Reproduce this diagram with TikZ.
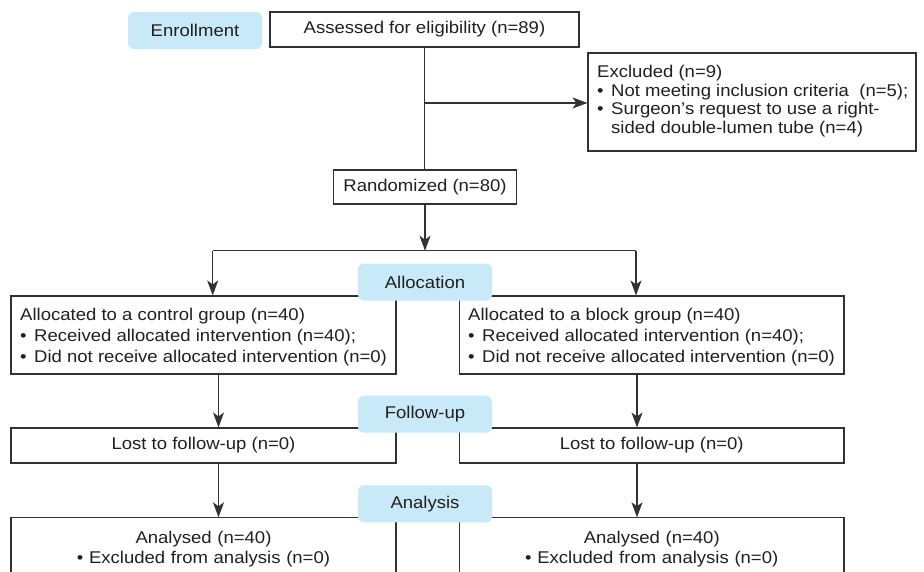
\documentclass[tikz,border=0pt]{standalone}
\usepackage{fontspec}
\setmainfont[FakeStretch=1.09]{Liberation Sans}
\usetikzlibrary{arrows.meta}
\definecolor{badgefill}{RGB}{199,233,248}
\definecolor{linec}{RGB}{50,50,50}
\definecolor{txt}{RGB}{35,31,32}
\newcommand{\bul}{\makebox[14pt][l]{•}}
\begin{document}
\begin{tikzpicture}[x=1pt,y=-1pt,
  box/.style={draw=linec, line width=1.1pt, inner sep=0pt, text=txt, font=\fontsize{17}{20.5}\selectfont},
  label/.style={text=txt, inner sep=0pt, align=left, anchor=base west},
  badge/.style={fill=badgefill, rounded corners=6pt, inner sep=0pt, text=txt, font=\fontsize{17}{20}\selectfont, minimum width=134pt, minimum height=37pt},
  conn/.style={draw=linec, line width=1.1pt},
  arr/.style={conn, -{Stealth[length=15pt,width=11pt,inset=4pt]}}]
\useasboundingbox (0,0) rectangle (924,571);
\clip (0,0) rectangle (924,571);
\fill[white] (0,0) rectangle (924,571);

\node[box, minimum width=309pt, minimum height=35pt] (assess) at (424.5,29.5) {Assessed for eligibility (n=89)};
\node[box, minimum width=328pt, minimum height=98pt] (excl) at (752,102) {};
% anchor base = baseline of the last line
\node[label, font=\fontsize{17}{18.35}\selectfont] (exclt) at (597,133)
  {Excluded (n=9)\\ \bul Not meeting inclusion criteria\ \ (n=5);\\ \bul Surgeon’s request to use a right-\\ \hspace*{14pt}sided double-lumen tube (n=4)};
\node[box, minimum width=183pt, minimum height=34pt] (rand) at (425,187) {Randomized (n=80)};

\node[box, minimum width=385pt, minimum height=78pt] (allocL) at (203.5,335) {};
\node[label, font=\fontsize{17}{20.8}\selectfont] (allocLt) at (20,362.3)
  {Allocated to a control group (n=40)\\ \bul Received allocated intervention (n=40);\\ \bul Did not receive allocated intervention (n=0)};
\node[box, minimum width=384.5pt, minimum height=78pt] (allocR) at (651.75,335) {};
\node[label, font=\fontsize{17}{20.8}\selectfont] (allocRt) at (468,362.3)
  {Allocated to a block group (n=40)\\ \bul Received allocated intervention (n=40);\\ \bul Did not receive allocated intervention (n=0)};

\node[box, minimum width=385pt, minimum height=35pt] (lostL) at (203.5,445.5) {Lost to follow-up (n=0)};
\node[box, minimum width=384.5pt, minimum height=35pt] (lostR) at (651.75,445.5) {Lost to follow-up (n=0)};

\node[box, minimum width=385pt, minimum height=100pt, anchor=north] (analL) at (203.5,517.3) {};
\node[box, minimum width=384.5pt, minimum height=100pt, anchor=north] (analR) at (651.75,517.3) {};
\node[text=txt, inner sep=0pt, text width=385pt, align=center, anchor=base, font=\fontsize{17}{20}\selectfont] (analLt) at (203.5,543.5)
  {Analysed (n=40)\\ • Excluded from analysis (n=0)};
\node[text=txt, inner sep=0pt, text width=384pt, align=center, anchor=base, font=\fontsize{17}{20}\selectfont] (analRt) at (651.75,543.5)
  {Analysed (n=40)\\ • Excluded from analysis (n=0)};

% connectors
\draw[conn] (assess.south) -- (assess.south |- rand.north);
\coordinate (exj) at (425,103);
\draw[arr] (exj) -- (exj -| excl.west);
\coordinate (brC) at (425,250.7);
\coordinate (brL) at (212.7,250.7);
\coordinate (brR) at (636,250.7);
\draw[arr] (rand.south) -- (rand.south |- brC);
\draw[conn] (brL) -- (brR);
\draw[arr] (brL) -- (brL |- allocL.north);
\draw[arr] (brR) -- (brR |- allocR.north);
\draw[arr] ([xshift=15pt]allocL.south) -- ([xshift=15pt]lostL.north);
\draw[arr] ([xshift=-14.75pt]allocR.south) -- ([xshift=-14.75pt]lostR.north);
\draw[arr] ([xshift=15pt]lostL.south) -- ([xshift=15pt]analL.north);
\draw[arr] ([xshift=-14.75pt]lostR.south) -- ([xshift=-14.75pt]analR.north);

% badges
\node[badge] (enr) at (195,30.5) {Enrollment};
\node[badge] (alloc) at (425,282) {Allocation};
\node[badge] (fol) at (425,414.2) {Follow-up};
\node[badge] (ana) at (425,503.8) {Analysis};
\end{tikzpicture}
\end{document}
